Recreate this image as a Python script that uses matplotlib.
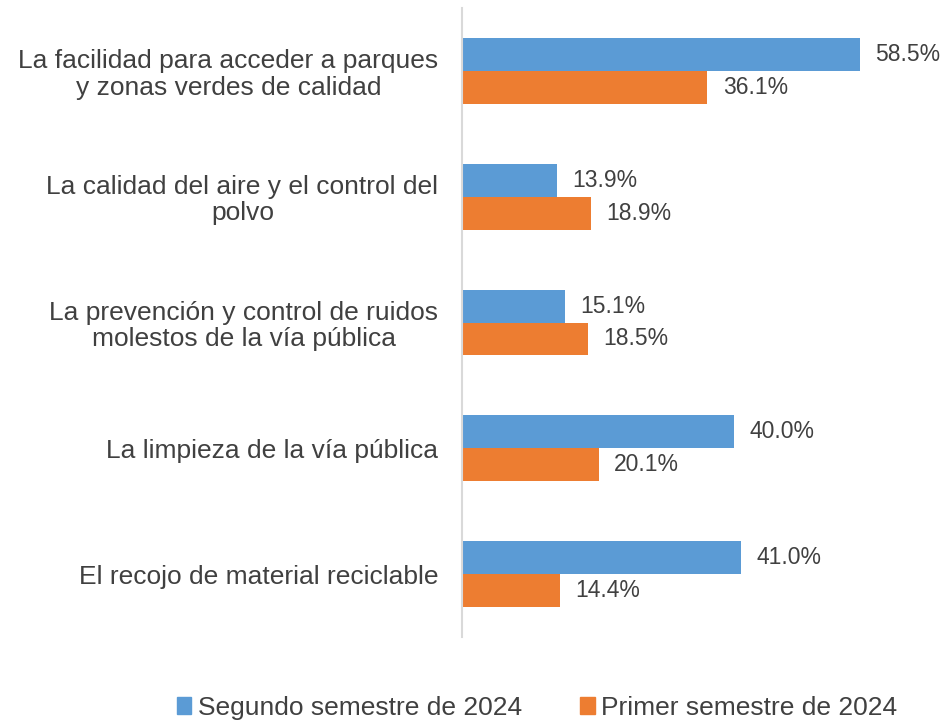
import numpy as np
import matplotlib.pyplot as plt
from matplotlib.patches import Patch

categories = [
    "La facilidad para acceder a parques\ny zonas verdes de calidad",
    "La calidad del aire y el control del\npolvo",
    "La prevención y control de ruidos\nmolestos de la vía pública",
    "La limpieza de la vía pública",
    "El recojo de material reciclable",
]
segundo_2024 = [58.5, 13.9, 15.1, 40.0, 41.0]
primer_2024 = [36.1, 18.9, 18.5, 20.1, 14.4]
series_names = ["Segundo semestre de 2024", "Primer semestre de 2024"]

blue = "#5B9BD5"
orange = "#ED7D31"
text_color = "#404040"

plt.rcParams["font.family"] = ["Liberation Sans", "DejaVu Sans"]

fig = plt.figure(figsize=(9.47, 7.22), dpi=100)
ax = fig.add_axes([462 / 947, 85 / 722, 476 / 947, 629 / 722])

y = np.arange(len(categories))
bar_h = 0.262

ax.barh(y - bar_h / 2, segundo_2024, height=bar_h, color=blue)
ax.barh(y + bar_h / 2, primer_2024, height=bar_h, color=orange)

# etiquetas de valor a la derecha de cada barra
for yi, v in zip(y, segundo_2024):
    ax.annotate(f"{v:.1f}%", (v, yi - bar_h / 2), xytext=(11, 0),
                textcoords="offset points", va="center", ha="left",
                fontsize=16.5, color=text_color)
for yi, v in zip(y, primer_2024):
    ax.annotate(f"{v:.1f}%", (v, yi + bar_h / 2), xytext=(11, 0),
                textcoords="offset points", va="center", ha="left",
                fontsize=16.5, color=text_color)

ax.set_xlim(0, 70)
ax.set_ylim(len(categories) - 0.5, -0.5)
ax.set_yticks(y)
ax.set_yticklabels(categories, fontsize=19, color=text_color,
                   multialignment="center", linespacing=1.12)
ax.tick_params(axis="y", length=0, pad=17)
ax.set_xticks([])

for s in ["top", "right", "bottom"]:
    ax.spines[s].set_visible(False)
ax.spines["left"].set_color("#D9D9D9")
ax.spines["left"].set_linewidth(1.5)

handles = [Patch(color=blue), Patch(color=orange)]
fig.legend(handles, series_names, loc="center",
           bbox_to_anchor=(537 / 947, 1 - 708 / 722), ncol=2, frameon=False,
           fontsize=19, labelcolor=text_color, handlelength=0.55,
           handleheight=0.6, handletextpad=0.25, columnspacing=2.2)

fig.savefig("out.png", dpi=100)
